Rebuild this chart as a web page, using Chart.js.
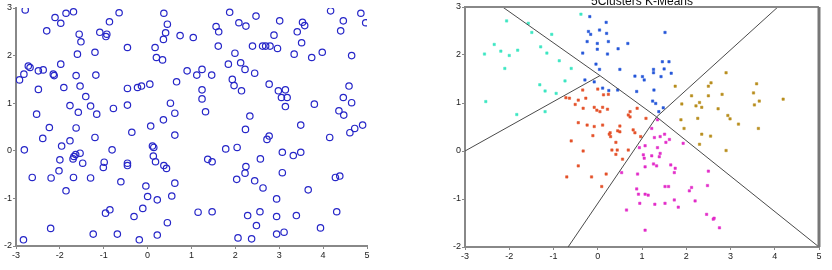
<!DOCTYPE html>
<html><head><meta charset="utf-8">
<script src="https://cdn.jsdelivr.net/npm/chart.js@4/dist/chart.umd.min.js"></script>
<style>
html,body{margin:0;padding:0;background:#fff;width:832px;height:270px;overflow:hidden}
#c1{position:absolute;left:0;top:0;width:380px;height:270px}
#c2{position:absolute;left:440px;top:0;width:392px;height:270px}
</style></head><body>
<canvas id="c1" width="380" height="270"></canvas>
<canvas id="c2" width="392" height="270"></canvas>
<script>
// ---- data ----
const xTicks = [-3,-2,-1,0,1,2,3,4,5];
const yTicks = [-2,-1,0,1,2,3];
const rightTitle = "5Clusters K-Means";

const rawPoints = [
[-2.79,2.96],[-2.11,2.80],[-1.98,2.68],[-1.86,2.89],[-1.69,2.92],[-2.30,2.52],[-1.56,2.45],[-1.52,2.29],[-1.60,2.03],[-1.20,2.07],[-1.09,2.49],[-0.93,2.45],[-0.95,2.40],[-0.87,2.71],[-0.65,2.90],[-0.46,2.17],[0.37,2.89],[0.45,2.66],[0.41,2.48],[0.36,2.34],[0.74,2.42],[1.04,2.38],[0.17,2.17],[0.20,1.96],[0.34,1.91],[0.90,1.68],[1.12,1.59],[0.66,1.45],[-2.72,1.78],[-2.68,1.75],[-2.82,1.61],[-2.92,1.49],[-2.49,1.68],[-2.38,1.70],[-2.15,1.61],[-2.13,1.58],[-1.98,1.82],[-2.49,1.29],[-1.91,1.33],[-1.63,1.58],[-1.54,1.36],[-1.41,1.14],[-1.18,1.59],[-1.77,0.95],[-1.30,0.94],[-1.58,0.81],[-1.16,0.77],[-0.78,0.89],[-0.46,0.96],[-2.53,0.77],[-2.24,0.49],[-1.63,0.48],[-0.46,1.31],[-0.23,1.33],[-0.14,1.36],[0.05,1.40],[-0.36,0.39],[0.07,0.52],[0.36,0.65],[0.52,1.0],[0.62,0.79],[0.62,0.33],
[1.87,2.91],[2.47,2.83],[2.08,2.69],[2.24,2.62],[1.56,2.61],[1.62,2.50],[3.01,2.73],[2.88,2.43],[3.53,2.70],[3.58,2.63],[3.41,2.50],[4.17,2.94],[4.46,2.73],[4.86,2.89],[4.97,2.69],[4.40,2.52],[3.51,2.27],[1.61,2.20],[2.39,2.20],[2.62,2.20],[2.69,2.20],[2.79,2.20],[2.96,2.15],[1.99,2.05],[3.34,2.03],[3.74,1.96],[3.98,2.07],[4.65,2.0],[1.84,1.82],[2.12,1.85],[2.22,1.71],[2.44,1.63],[1.24,1.71],[1.46,1.59],[1.93,1.50],[1.97,1.37],[2.14,1.26],[2.77,1.40],[2.98,1.26],[3.14,1.28],[3.05,1.12],[3.18,1.12],[3.14,0.93],[3.80,0.98],[4.59,1.36],[4.46,1.12],[4.65,1.01],[1.24,1.28],[1.24,1.09],[1.32,0.82],[2.33,0.73],[4.36,0.84],[4.47,0.75],[3.49,0.54],[2.23,0.45],[4.90,0.54],[4.72,0.47],[4.61,0.38],
[-2.39,0.26],[-2.81,0.02],[-1.96,0.10],[-1.77,0.21],[-1.20,0.28],[-0.81,0.02],[-1.54,-0.05],[-1.68,-0.12],[-1.70,-0.17],[-1.64,-0.08],[-2.0,-0.19],[-1.48,-0.26],[-0.99,-0.24],[-1.01,-0.35],[-0.46,-0.26],[-0.46,-0.31],[-2.02,-0.42],[-2.63,-0.56],[-2.20,-0.57],[-1.69,-0.56],[-1.30,-0.57],[-1.86,-0.84],[-0.61,-0.65],[0.11,0.10],[0.14,0.07],[0.13,-0.11],[0.18,-0.23],[0.37,-0.31],[0.43,-0.37],[0.62,-0.68],[-0.04,-0.74],[0.0,-0.96],[0.22,-1.03],[0.55,-0.95],[-0.11,-1.21],[-0.31,-1.38],[-0.86,-1.24],[-0.96,-1.31],[0.45,-1.51],[1.15,-1.29],[-2.21,-1.63],[-1.24,-1.75],[-0.69,-1.75],[0.22,-1.77],[-0.19,-1.87],[-2.83,-1.87],
[2.77,0.31],[2.72,0.24],[4.15,0.28],[1.78,0.04],[2.04,0.07],[3.07,-0.03],[3.32,-0.10],[3.49,-0.03],[1.37,-0.18],[1.47,-0.23],[2.57,-0.17],[2.24,-0.33],[2.22,-0.47],[3.07,-0.46],[2.03,-0.60],[2.44,-0.63],[2.63,-0.78],[4.28,-0.56],[4.38,-0.53],[3.66,-0.82],[2.94,-1.01],[1.47,-1.28],[2.28,-1.36],[2.56,-1.28],[2.94,-1.38],[3.39,-1.36],[4.31,-1.28],[2.48,-1.57],[3.94,-1.62],[3.11,-1.71],[2.94,-1.75],[2.06,-1.83],[2.37,-1.85]
];

const clusterCyan = [[-0.38,2.85],[-2.06,2.71],[-1.57,2.66],[-1.49,2.47],[-1.04,2.43],[-2.34,2.22],[-2.19,2.08],[-2.0,1.99],[-1.81,2.10],[-2.56,2.02],[-1.29,2.17],[-1.15,2.04],[-0.87,1.88],[-2.10,1.72],[-0.60,1.72],[-0.74,1.46],[-1.31,1.38],[-1.19,1.25],[-0.94,1.20],[-2.53,1.03],[-1.19,0.82],[-1.83,0.76]];
const clusterBlue = [[-0.18,2.80],[0.19,2.68],[-0.21,2.49],[-0.16,2.43],[0.20,2.45],[0.04,2.52],[-0.24,2.28],[-0.01,2.24],[0.24,2.28],[-0.01,2.12],[-0.34,2.04],[-0.04,1.81],[0.04,1.70],[-0.29,1.48],[-0.08,1.44],[0.11,1.31],[0.45,1.27],[0.22,2.02],[0.46,2.13],[0.68,2.24],[1.52,2.47],[1.46,1.86],[1.61,1.86],[0.50,1.70],[1.26,1.70],[1.26,1.63],[1.50,1.71],[1.66,1.62],[0.84,1.56],[1.01,1.55],[1.05,1.48],[1.43,1.55],[0.25,1.26],[0.88,1.24],[1.27,1.27],[1.24,1.04],[1.31,0.99],[1.48,0.90],[1.38,0.82]];
const clusterOrange = [[-0.34,1.27],[0.0,1.29],[0.13,1.17],[0.24,1.18],[-0.72,1.11],[-0.64,1.10],[-0.44,1.06],[-0.27,1.10],[-0.51,0.97],[-0.33,0.89],[-0.08,0.91],[-0.02,0.85],[0.11,0.91],[0.05,0.82],[0.22,0.87],[-0.44,0.59],[-0.24,0.54],[-0.08,0.51],[0.11,0.54],[0.28,0.38],[0.45,0.42],[0.73,0.82],[0.89,0.89],[0.69,0.75],[0.73,0.71],[1.09,0.68],[0.50,0.52],[0.80,0.44],[0.84,0.38],[0.50,0.40],[0.26,0.35],[0.29,0.30],[-0.11,0.32],[0.97,0.30],[-0.60,0.21],[0.41,0.18],[0.32,0.02],[0.44,0.02],[-0.33,0.0],[0.69,0.02],[0.41,-0.07],[0.56,-0.17],[-0.44,-0.31],[-0.70,-0.54],[-0.14,-0.54],[0.19,-0.48],[0.09,-0.74]];
const clusterOlive = [[2.90,1.63],[2.56,1.42],[2.50,1.35],[3.59,1.40],[2.12,1.15],[2.50,1.15],[2.81,1.18],[3.52,1.21],[1.90,0.98],[2.30,1.01],[2.22,0.94],[2.35,0.91],[2.72,0.88],[3.54,0.96],[3.65,1.04],[4.19,1.08],[1.88,0.65],[2.26,0.68],[2.94,0.74],[2.99,0.67],[3.18,0.56],[1.95,0.47],[3.63,0.47],[2.35,0.35],[2.55,0.31],[2.30,0.14],[2.90,0.01],[1.75,1.35]];
const clusterMagenta = [[1.35,0.65],[1.22,0.47],[1.51,0.35],[1.41,0.30],[1.28,0.28],[1.62,0.24],[1.54,0.18],[1.93,0.16],[0.94,0.07],[1.07,0.11],[1.35,0.07],[1.03,-0.08],[1.05,-0.15],[1.22,-0.10],[1.41,-0.05],[1.39,-0.12],[1.26,-0.27],[1.33,-0.31],[1.07,-0.33],[1.65,-0.29],[1.75,-0.36],[1.73,-0.45],[0.90,-0.48],[0.54,-0.45],[1.52,-0.74],[1.60,-0.74],[0.88,-0.79],[0.92,-0.90],[1.07,-0.90],[1.14,-0.92],[2.12,-0.76],[2.07,-0.83],[2.20,-1.04],[1.73,-1.02],[1.52,-1.09],[1.29,-1.11],[1.82,-1.17],[0.95,-1.09],[0.65,-1.23],[2.46,-1.32],[2.48,-0.72],[2.50,-0.42],[1.07,-1.65],[2.61,-1.42],[2.63,-1.40],[2.75,-1.60]];

// Voronoi boundary segments (endpoints)
const boundaryCyanBlue = [[-2.15,3.0],[0.05,1.57]];
const boundaryCyanOrange = [[-3.0,0.0],[0.05,1.57]];
const boundaryBlueOrange = [[0.05,1.57],[1.33,0.71]];
const boundaryBlueOlive = [[1.33,0.71],[4.07,3.0]];
const boundaryOrangeMagenta = [[-0.67,-2.0],[1.33,0.71]];
const boundaryMagentaOlive = [[1.33,0.71],[5.0,-2.0]];

// ---- helpers ----
const toXY = arr => arr.map(p => ({x:p[0], y:p[1]}));
const tickFont = {family:"'Liberation Sans', Arial, sans-serif", size:9};
const axisColor = '#888';

function makeScales(yWidth, xHeight){
  const common = (ticksArr) => ({
    type:'linear',
    min: ticksArr[0], max: ticksArr[ticksArr.length-1],
    afterBuildTicks(s){ s.ticks = ticksArr.map(v=>({value:v})); },
    ticks:{font:tickFont, color:'#222', padding:1, autoSkip:false, maxRotation:0},
    grid:{drawOnChartArea:false, tickLength:3, color:axisColor, lineWidth:1},
    border:{color:axisColor, width:2}
  });
  const x = common(xTicks); x.afterFit = s => { s.height = xHeight; };
  const y = common(yTicks); y.afterFit = s => { s.width = yWidth; };
  return {x, y};
}

// ---- left chart ----
new Chart(document.getElementById('c1'), {
  type:'scatter',
  data:{datasets:[{
    data: toXY(rawPoints),
    pointStyle:'circle', pointRadius:3.2, borderWidth:1.2,
    borderColor:'#2626c8', backgroundColor:'rgba(0,0,0,0)'
  }]},
  options:{
    responsive:false, animation:false,
    layout:{padding:{top:8,right:13,left:0,bottom:0}},
    plugins:{legend:{display:false}, tooltip:{enabled:false}},
    scales: makeScales(16, 24)
  }
});

// ---- right chart ----
const framePlugin = {
  id:'frame',
  afterDraw(chart){
    const {ctx, chartArea:a} = chart;
    ctx.save();
    ctx.strokeStyle = axisColor; ctx.lineWidth = 2;
    ctx.beginPath();
    ctx.moveTo(a.left, a.top); ctx.lineTo(a.right, a.top);
    ctx.stroke();
    ctx.lineWidth = 3; ctx.strokeStyle = '#777';
    ctx.beginPath();
    ctx.moveTo(a.right, a.top); ctx.lineTo(a.right, a.bottom);
    ctx.stroke();
    ctx.fillStyle = '#111';
    ctx.font = "12px 'Liberation Sans', Arial, sans-serif";
    ctx.textAlign = 'center'; ctx.textBaseline = 'alphabetic';
    ctx.fillText(rightTitle, (a.left + a.right)/2, 5);
    ctx.restore();
  }
};

const clusterStyle = (arr, color) => ({
  data: toXY(arr), pointStyle:'rect', pointRadius:1.7, borderWidth:0.5,
  backgroundColor: color, borderColor: color, showLine:false
});
const lineStyle = arr => ({
  data: toXY(arr), showLine:true, pointRadius:0, borderColor:'#4a4a4a', borderWidth:1, fill:false
});

new Chart(document.getElementById('c2'), {
  type:'scatter',
  data:{datasets:[
    lineStyle(boundaryCyanBlue), lineStyle(boundaryCyanOrange), lineStyle(boundaryBlueOrange),
    lineStyle(boundaryBlueOlive), lineStyle(boundaryOrangeMagenta), lineStyle(boundaryMagentaOlive),
    clusterStyle(clusterCyan, '#3de6c2'),
    clusterStyle(clusterBlue, '#2456d8'),
    clusterStyle(clusterOrange, '#e4522a'),
    clusterStyle(clusterOlive, '#b88e1e'),
    clusterStyle(clusterMagenta, '#e22cc8')
  ]},
  options:{
    responsive:false, animation:false,
    layout:{padding:{top:7,right:13,left:0,bottom:0}},
    plugins:{legend:{display:false}, tooltip:{enabled:false}},
    scales: makeScales(25, 23)
  },
  plugins:[framePlugin]
});
</script>
</body></html>
